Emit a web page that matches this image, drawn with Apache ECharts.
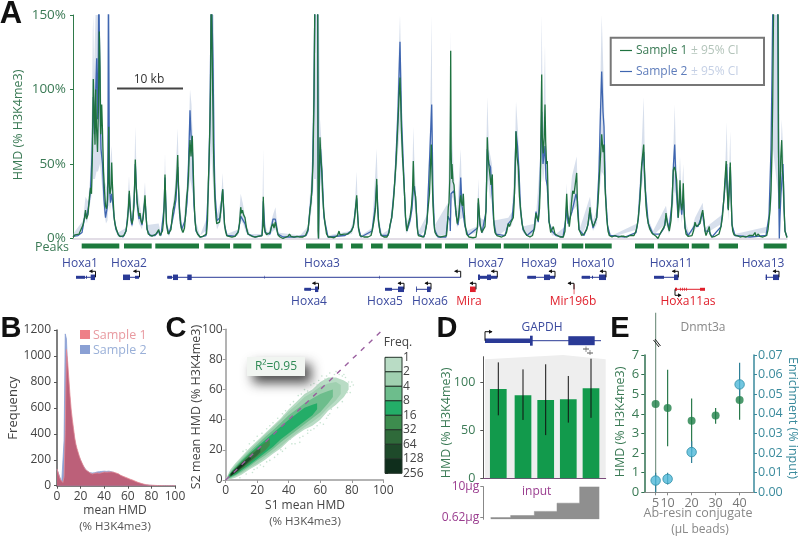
<!DOCTYPE html>
<html><head><meta charset="utf-8"><style>html,body{margin:0;padding:0;background:#fff}#c{width:800px;height:538px}</style>
<script src="https://cdn.jsdelivr.net/npm/echarts@6/dist/echarts.min.js"></script></head><body><div id="c"></div>
<script>
// ---------- Panel A: track values, [genomic bin, HMD %] ----------
const s1Track=[[73,1],[75,2.5],[77,1.5],[79,3],[81,4],[83,9],[84.5,14],[85.5,19],[86.5,13],[88,16],[89.5,28],[90.5,34],[91.5,30],[92.5,60],[93.3,107],[94,90],[95,63],[95.7,100],[96.5,75],[97.5,58],[98.5,90],[99.3,139],[100,115],[100.7,70],[101.7,90],[102.5,72],[103.5,45],[104.5,32],[105.5,22],[106.5,20],[107.5,26],[108.2,42],[108.7,75],[109.2,38],[110,30],[111,34],[111.7,51],[112.3,38],[113,28],[114,15],[115,10],[116,7],[117,5],[118,3],[119,2.5],[120,1.2],[122,1],[124,2],[126,5],[127.5,12],[128.5,22],[129.3,32],[130,22],[131,14],[132,10],[133,13],[134,24],[134.7,38],[135.3,53],[136,38],[137,26],[138,20],[139,15],[140,17],[141,12],[142,10],[143,13],[144,20],[145,29],[146,15],[147,7],[148.3,3],[150,2],[152,1.5],[154,2],[156,3],[157.5,4],[158.7,6],[160,2],[161,1.5],[162.5,5],[163.5,12],[164.3,25],[165,43],[165.7,25],[166.5,10],[168,3],[169.5,2.5],[171,6],[172,13],[173,19],[174,22],[175,26],[176,33],[177,44],[177.7,56],[178.5,35],[179.5,20],[180.5,10],[181.7,6],[183,4],[184.5,7],[185.5,15],[186.7,28],[187.5,32],[188.5,42],[189.3,58],[190,66],[191,55],[192.3,69],[193,52],[194,28],[195,12],[196,6],[197.5,3],[200,1],[203,1.5],[205,2.5],[206.5,3],[207.5,12],[208.3,37],[209,50],[209.7,70],[210.5,100],[211.3,170],[213,170],[213.4,63],[214,45],[215,25],[216,14],[216.7,10],[218,10],[219.5,11],[221,20],[222,28],[222.7,33],[223.5,22],[224.5,10],[225.5,5],[226.7,2],[229,1.5],[232,1],[235,1.5],[238,4],[239.5,10],[240.7,21],[241.5,17],[242.5,19],[243.5,16],[245,14],[246.5,7],[248,3],[250,2],[252,1.5],[255,1],[258,1.5],[260,1],[262,2],[262.8,8],[263.3,28],[264,9],[265,5],[266.5,2.5],[268,2],[270,4],[271.5,8],[273,10],[274,7],[275.3,11],[276.5,7],[278,2.5],[280,1],[283,0],[285,1],[288,1.5],[289.5,3],[291,1.5],[294,1],[297,1.5],[300,1],[303,1],[305.5,2],[307,3],[308,6],[309,12],[310,19],[311,24],[312,35],[313,50],[314,95],[315,170],[317.7,170],[318.1,5],[318.5,0],[319,30],[320,68],[320.8,55],[321.7,46],[322.5,32],[323.5,20],[325,10],[326.5,3],[328.3,1],[331,1],[334,0.5],[336,1.5],[337.5,2],[339,5],[340,2.5],[342,2],[344,3],[346,2],[348,3],[350,3.5],[351.5,5],[353.3,8],[354.5,13],[355.5,20],[356.7,29],[357.5,17],[358.5,7],[360,2],[364,1],[368,1],[371,2],[372.5,6],[374,12],[375.5,20],[376.7,40],[377.5,22],[378.5,12],[380,4],[381.5,2],[384,1],[387,1],[389,4],[390,9],[391.7,14],[393,22],[394,30],[395,41],[396,50],[397,64],[398,78],[399,95],[400,108],[400.8,90],[401.5,72],[402.5,55],[403.3,46],[404.5,30],[405.5,15],[406.7,5],[408,9],[410,14],[411.5,22],[412.5,32],[413.3,52],[414,34],[415,30],[415.7,28],[417,8],[418.3,2],[420,1],[423.3,1],[425,3],[426.7,10],[428,20],[429.5,30],[430.5,50],[431.3,63],[432.2,40],[433,22],[434,10],[435,4],[436.7,2],[440,1],[443,1.5],[445,1],[446.5,2],[447.5,10],[448.3,21],[449,24],[449.8,40],[450.3,75],[450.7,126],[451.1,60],[451.7,40],[452,50],[453,38],[454,36],[455,26],[456,18],[457.3,10],[458.5,14],[459.5,22],[460.7,29],[461.5,24],[462.5,22],[463.3,30],[464,20],[465,10],[466.7,3],[469,1],[473,0.5],[476,1],[477.5,8],[478.3,27],[479,20],[480,10],[481.7,4],[483,5],[485,8],[486,20],[486.7,40],[487.3,68],[488,56],[489,48],[490,42],[491,36],[492.3,43],[493,25],[494,9],[495,4],[497,2],[501.7,1],[505,2],[506.5,4],[508.3,10],[509.5,8],[511,11],[513.3,14],[514,22],[515,42],[516,72],[517,55],[518.3,48],[519.5,28],[520.7,19],[522,10],[523.5,6],[525,4],[527,2],[530,1],[532.5,2],[534.5,7],[536,17],[537,14],[538.3,12],[539.5,20],[540.5,40],[541.2,85],[541.7,110],[542.2,70],[543.3,57],[544.2,68],[545,90],[545.7,65],[546.5,50],[547.3,52],[548,30],[549,12],[550.7,4],[552,5],[553.3,8],[555,3],[556.7,2],[560,1],[563.3,1],[565,5],[566,20],[566.7,30],[567.5,18],[569.3,8],[570.5,15],[571.5,24],[572.7,32],[574,30],[575,35],[576.7,44],[577.5,20],[579,6],[581.7,2],[584,3],[586.7,6],[588,10],[589,15],[590,21],[591,13],[593.3,8],[595,11],[596.7,14],[598,24],[599.3,41],[600.5,55],[601.7,70],[603,58],[604,63],[605,35],[606.7,14],[608,5],[609.3,2],[612,1],[615,2],[618,1],[621,1.5],[624,1.5],[627,1],[630,2],[632,1.5],[634,2],[636,5],[637.3,9],[638.3,14],[640,26],[641,40],[641.7,50],[642.5,50],[643.7,63],[644.5,45],[645,37],[646,22],[647,15],[648.3,10],[650,6],[652,3.5],[653.3,3],[656,1.5],[658,0],[660,3],[661.5,3],[663.3,7],[665,9],[666,17],[667,12],[668,9],[669.3,5],[671,12],[672,24],[673.3,46],[674.5,48],[675.5,45],[676.7,39],[677.5,24],[678.3,14],[679,22],[680,39],[680.8,24],[681.7,19],[682.5,24],[683.3,37],[684,20],[685,8],[686,3],[688,1.5],[690,1],[692,2],[693.5,5],[695,11],[696.5,8],[698.3,7],[700,10],[701.5,16],[702.7,19],[704,12],[705,5],[706,2],[708,2],[709.3,8],[710,3],[711.7,1],[715,1.5],[719,3],[721,8],[722.5,15],[724,28],[725,40],[726.2,52],[727,35],[728.3,19],[729.2,32],[730.3,51],[731,30],[732,10],[732.7,5],[734,2.5],[736.7,2],[740,1],[743,1.5],[746,1],[749,2],[751,1],[753,2],[755,4],[756,1.5],[758.3,3],[760,1.5],[763,1],[766.7,2],[768,6],[770,19],[771,32],[772,60],[772.7,92],[773.5,150],[774,170],[778,170],[778.5,60],[779.3,20],[780,30],[780.8,55],[781.7,66],[782.5,45],[783.3,41],[784,22],[785,5],[787,0.5]];
const s2Track=[[73,1.5],[78,2],[82,4],[84,12],[85.5,17],[87,15],[89.5,26],[90.5,33],[92,55],[93.3,95],[94.5,70],[95.7,100],[96.7,121],[97.5,80],[98.3,115],[98.8,170],[99.5,170],[100.3,80],[101,60],[102.5,50],[104,26],[105.5,14],[106.5,13],[107.5,22],[108,60],[108.4,170],[109,170],[109.5,35],[110.5,24],[111.7,30],[113,22],[114.5,12],[116,6],[119,2],[123,1],[126,5],[128.5,20],[129.3,30],[131,12],[132,9],[134,22],[135.3,50],[137,24],[139,13],[140,15],[142,9],[145,26],[147,6],[150,2],[155,2],[158.7,5],[161,2],[164,20],[165,41],[166.5,9],[169,3],[172,11],[174,18],[176,26],[177.7,48],[179.5,17],[181.7,6],[185,12],[187,24],[188.5,50],[190,86],[191,70],[192.3,60],[194,22],[196,5],[200,1],[206,2],[208.3,33],[210,80],[211,150],[211.3,170],[212.5,170],[213,120],[214,60],[215,30],[217,12],[220,14],[222.7,33],[224.5,9],[227,2],[235,1.5],[238.5,5],[240.7,15],[242.5,14],[245,10],[248,3],[255,1],[262,2],[263.3,25],[265,4],[270,3],[273,13],[275.3,13],[278,3],[283,1],[295,1],[306,2],[308,5],[310,20],[312,32],[314,95],[315,170],[317.5,170],[318.5,0],[319.5,40],[320.5,60],[322,45],[324,14],[328,1],[345,2],[351,5],[353.3,8],[356.7,27],[358.5,7],[361,1],[372,5],[375,20],[376.7,36],[378.5,11],[381,2],[388,2],[391.7,14],[395,40],[398,85],[400,132],[401.5,80],[403.3,50],[405.5,14],[407,5],[410,12],[412,20],[413.3,33],[414.5,35],[416,22],[418,3],[424,1],[427,11],[430,60],[431.7,90],[433,30],[434.5,6],[438,1],[446,1],[448,15],[450,12],[450.3,5],[451,30],[452.5,30],[454,32],[456,16],[458,9],[459.5,18],[460.7,41],[462,22],[463.5,22],[465,8],[468,2],[477.5,7],[478.3,24],[480,9],[482,4],[486,18],[487.3,60],[489,50],[490.5,48],[492,30],[493.5,13],[496,3],[505,2],[508.3,10],[512,13],[514.5,30],[516,72],[517.5,62],[519,45],[520.5,19],[523,6],[527,2],[534,6],[536,18],[538.3,11],[540,35],[541.7,85],[543,50],[545,62],[546,40],[547.3,35],[549,11],[552,5],[556,2],[563,1],[566,14],[566.7,22],[568,10],[570,9],[572,18],[574,18],[576,30],[577.5,25],[579,6],[584,2],[588,9],[590,19],[593,7],[596.7,14],[599,45],[600.5,85],[601.7,112],[603,85],[604,75],[605.5,30],[607.5,9],[610,2],[625,1],[636,4],[638.3,13],[641.7,48],[643.7,58],[645,35],[648.3,10],[653,3],[660,3],[664,7],[666,15],[669,6],[672,24],[673.5,50],[674.7,63],[676,38],[678,14],[680,30],[681.7,16],[683.3,28],[685,7],[688,2],[695,9],[698,8],[702.7,17],[705,5],[709,5],[712,1],[721,8],[724,27],[726.7,50],[728,20],[730.3,48],[732,9],[735,2],[750,1],[766,2],[769,15],[771,60],[772,110],[773,170],[775,170],[777.5,170],[778.8,30],[779.3,0],[780,15],[781,30],[783,50],[784,20],[785,5],[787,1]];
const ciUpper=[[73,3],[83,12],[85.5,28],[88,25],[90,40],[92,90],[92.8,140],[93.3,150],[94,110],[95.5,150],[96.5,150],[98.3,150],[99.8,150],[101,100],[103,62],[105,38],[107,34],[108,90],[108.3,150],[109.3,150],[109.8,48],[111.7,62],[113,35],[115,12],[118,4],[126,7],[129,42],[131,16],[134,32],[135.3,75],[137,34],[140,22],[142,14],[145,38],[147,9],[158.7,10],[161,3],[164,28],[165,57],[166.5,12],[170,3],[175,36],[177.7,74],[179.5,24],[183,6],[187,38],[188,50],[190,100],[191.5,90],[193,62],[195,14],[200,2],[207.5,15],[209,75],[210.5,150],[213.7,150],[215,40],[217,16],[221,26],[222.7,44],[224.5,12],[227,3],[238,6],[240.7,30],[243,23],[246,10],[250,3],[262,3],[263.3,60],[264,12],[268,3],[273,16],[275.5,21],[278,4],[300,2],[308,8],[310,30],[312,45],[314,150],[319,150],[320,80],[322,60],[324,18],[328,2],[350,5],[354,14],[356.7,45],[358,12],[361,2],[372,7],[376.7,60],[378.5,15],[382,3],[389,6],[393,28],[396,62],[398,110],[400,150],[402,90],[404,50],[406,10],[410,16],[412,30],[413.3,75],[414.5,50],[416,28],[418,4],[427,16],[430,75],[431.7,150],[432.5,50],[434,8],[448,24],[450.3,100],[450.7,140],[451.2,80],[454,42],[457,16],[460.7,60],[462,30],[464,30],[466,5],[477,8],[478.3,40],[480,14],[485,12],[487.3,95],[489,60],[492,50],[494,12],[508.3,14],[512,18],[515,60],[516,92],[518,72],[520.5,30],[523,8],[535,10],[536.5,20],[540,52],[541.7,150],[543,70],[545,130],[546,65],[548,45],[550,7],[556,3],[565,8],[566.7,37],[568,14],[572,42],[576.7,55],[578,26],[580,7],[590,28],[593,12],[597,20],[599,60],[601.7,150],[603.5,110],[605.5,40],[608,7],[612,2],[637,10],[641,52],[643.7,95],[645,50],[648,14],[653,5],[666,22],[669,9],[672,30],[674.7,90],[676,55],[678,22],[680,55],[681.7,28],[683.3,50],[685,12],[690,2],[695,14],[702.7,24],[705,7],[722,16],[725,42],[726.7,78],[728.3,26],[730.3,72],[732,12],[735,3],[768,8],[770,30],[771.5,80],[772.5,150],[779,150],[780,40],[781.7,80],[783.5,55],[785,7],[787,2]];
const ciLower=[[73,0.5],[83,6],[85.5,14],[87,10],[89.5,22],[91,26],[93,40],[95,40],[96.5,45],[98,45],[100,50],[102,35],[104,18],[106,10],[107.5,12],[108.7,25],[110,18],[111.7,30],[113,15],[115,6],[118,1],[126,3],[128,14],[129.3,24],[131,8],[133,8],[135.3,38],[137,16],[139,10],[142,6],[145,20],[147,4],[150,1],[158,3],[161,1],[164,12],[165,32],[166.5,6],[169,1],[172,8],[175,18],[177.7,38],[179.5,10],[182,3],[185,9],[187,20],[190,40],[191.5,35],[193,28],[195,7],[198,1],[207.5,6],[209,30],[211,60],[213.5,30],[215,16],[217,6],[221,12],[222.7,22],[224.5,6],[227,1],[238,2],[240.7,12],[243,10],[246,4],[250,1],[262,1],[263.3,20],[264,5],[268,1],[273,5],[275.5,6],[278,1],[305,1],[308,3],[310,11],[312,22],[314,40],[316,40],[318,0],[320,40],[322,25],[324,10],[328,0.5],[352,3],[355,12],[356.7,20],[358,4],[361,1],[372,3],[375,13],[376.7,28],[378.5,7],[382,1],[389,2],[393,16],[396,40],[398,58],[400,75],[402,50],[404,25],[406,3],[410,9],[412,16],[413.3,30],[414.5,22],[416,12],[419,1],[427,7],[430,35],[431.7,45],[433,14],[436,1],[447,3],[449,16],[450.5,3],[452,28],[454,25],[457,7],[460,13],[463,14],[466,2],[477,4],[478.3,18],[480,6],[483,3],[486,14],[487.3,45],[490,26],[492,30],[494,6],[497,1],[508,7],[512,9],[515,28],[516,52],[518,32],[520.5,13],[523,4],[530,0.5],[535,5],[536.5,11],[539,12],[541,55],[543,38],[545,50],[547,30],[549,8],[552,2],[565,2],[566.7,17],[568,7],[572,18],[576.7,22],[578,10],[581,1],[590,14],[593,5],[597,10],[599,28],[601.7,45],[604,42],[605.5,18],[608,3],[612,1],[637,6],[641,32],[643.7,42],[645,25],[648,7],[653,2],[666,10],[669,3],[672,16],[674.7,32],[676,28],[678,10],[680,24],[681.7,10],[683.3,22],[685,5],[688,1],[695,6],[702.7,12],[705,3],[722,10],[725,30],[726.7,38],[728.3,12],[730.3,35],[732,6],[735,1],[768,4],[770,13],[771.5,25],[773,60],[778,30],[779.3,0],[781,35],[783.5,25],[785,3],[787,0.3]];
const peakIntervals=[[81.7,119.3],[124,151.7],[155.3,199],[204.3,230],[233.3,251.3],[260.7,281.7],[306,330],[335.7,342.7],[351,362.7],[371,382.7],[387.7,421.3],[425,441.7],[445,468],[475,501],[503.7,529.3],[530,558],[561.7,583.3],[585,611.7],[635,654],[657.7,689],[691.7,709.3],[718.7,738],[763.7,786.7]];
const hoxGenes=[
 {name:'Hoxa1',row:1,type:'coding',start:76,end:95,tss:95.5,dir:-1,labelAt:80,exons:[[76,85,'mid'],[86,87,'mid'],[90.7,95,'big']]},
 {name:'Hoxa2',row:1,type:'coding',start:123,end:139,tss:139.5,dir:-1,labelAt:129,exons:[[123,130,'big'],[135,139,'mid']]},
 {name:'Hoxa3',row:1,type:'coding',start:167.3,end:460.7,tss:460.7,dir:-1,labelAt:322,exons:[[167.3,172,'mid'],[173,178,'big'],[187.3,191.7,'big'],[264.5,265,'tick'],[379,379.6,'tick']]},
 {name:'Hoxa4',row:2,type:'coding',start:304.3,end:318.3,tss:318.5,dir:-1,labelAt:309,exons:[[304.3,311,'mid'],[315,318.3,'big']]},
 {name:'Hoxa5',row:2,type:'coding',start:385,end:404,tss:404,dir:-1,labelAt:385,exons:[[385,392,'mid'],[398,404,'big']]},
 {name:'Hoxa6',row:2,type:'coding',start:416,end:430.7,tss:431,dir:-1,labelAt:430,exons:[[416,416.8,'big'],[427,430.7,'big']]},
 {name:'Hoxa7',row:1,type:'coding',start:478,end:497.3,tss:497.3,dir:-1,labelAt:486,exons:[[478,480,'big'],[480,487,'mid'],[487,491,'big'],[491,497.3,'mid']]},
 {name:'Mira',row:2,type:'rna',start:470,end:475.7,tss:476,dir:-1,labelAt:469,exons:[[470,475.7,'big']]},
 {name:'Hoxa9',row:1,type:'coding',start:527.3,end:555,tss:555,dir:-1,labelAt:539,exons:[[527.3,536,'mid'],[544,550,'big'],[550,555,'mid']]},
 {name:'Mir196b',row:2,type:'rna',start:574,end:574,tss:574,dir:-1,labelAt:573,exons:[[573.7,574.4,'tall']]},
 {name:'Hoxa10',row:1,type:'coding',start:581.7,end:606,tss:606,dir:-1,labelAt:593,exons:[[581.7,590,'mid'],[592,593,'mid'],[599,606,'big']]},
 {name:'Hoxa11',row:1,type:'coding',start:654,end:678.3,tss:678.3,dir:-1,labelAt:671,exons:[[654,664,'mid'],[674,678.3,'big']]},
 {name:'Hoxa11as',row:2,type:'rna',start:675,end:705,tss:675,dir:1,down:true,labelAt:688,exons:[[675,677,'mid'],[680,680.8,'mid'],[682,682.8,'mid'],[684,684.8,'mid'],[686,686.8,'mid'],[700,705,'mid']]},
 {name:'Hoxa13',row:1,type:'coding',start:765.7,end:779,tss:779,dir:-1,labelAt:763,exons:[[765.7,767,'big'],[773,779,'big']]}
];
// ---------- Panel B ----------
const histS1=[130,115,70,45,30,25,70,420,1050,960,830,700,590,510,440,370,320,285,255,225,200,180,160,145,125,120,112,105,98,95,90,92,96,92,98,100,96,105,100,104,105,108,104,112,105,110,106,100,104,96,98,90,92,85,80,82,72,74,65,62,58,52,50,46,44,38,36,30,28,24,22,18,16,13,11,10,8,7,5,4,4,3,3,2,2,2,1,1,1,1,0,0,0,0,0,0,0,0,0,0,0];
const histS2=[125,110,75,50,28,40,350,1170,1130,880,760,640,540,470,410,350,305,270,240,215,195,172,155,140,128,118,110,102,100,98,98,102,100,104,106,102,108,104,110,108,112,115,110,118,112,114,108,104,102,98,92,88,84,78,74,72,66,62,56,52,48,44,40,37,34,30,26,24,20,18,15,13,11,9,8,6,5,4,3,3,2,2,1,1,1,1,0,0,0,0,0,0,0,0,0,0,0,0,0,0,0];
// ---------- Panel C: S2 range for each S1 value, per frequency level ----------
const freqLevels=[1,2,4,8,16,32,64,128,256];
const densityGe1=[[0.5,0.2,1.5],[3,0.5,7],[6,1.5,11],[10,3.5,15.5],[15,7,21],[20,10,26],[25,13.5,31],[30,17.5,36],[35,21,41],[40,26,47],[45,30,52],[50,33.5,57],[55,36,60],[60,40,65],[65,46,68],[70,50,68],[75,55,66],[78,60,64]];
const densityGe2=[[1,0.5,2],[3,1,6],[6,2.5,10],[10,4.5,14.5],[15,8,20],[20,11,25],[25,15,30],[30,18.5,35],[35,22.5,40],[40,27,45.5],[45,31,50],[50,35,55],[55,38.5,58],[60,42.5,62],[65,48,64],[70,53,65],[73,57,63]];
const densityGe4=[[1.5,1,2.5],[3,1.5,5],[6,3,9],[10,5.5,13.5],[15,9,18.5],[20,13,23.5],[25,16.5,28.5],[30,20.5,33],[35,25,38],[40,29,43],[45,33,47],[50,37,51],[55,41,54],[60,45,57],[65,51,59],[68,55,60]];
const densityGe8=[[2,1.5,3],[4,2.5,6],[7,4,9],[10,6.5,12.5],[15,10,17.5],[20,14,22],[25,18,26.5],[30,22,31],[35,27,35.5],[40,31,40],[45,35,44],[50,39,48],[55,43,50],[58,47,51]];
const densityGe16=[[2.5,2,3.5],[5,3.5,6.5],[8,5.5,10],[12,8.5,14],[16,12,18],[20,15.5,21],[25,19.5,25],[28,23,27.5]];
const densityGe32=[[3,2.5,4],[5,4,6.5],[8,6,9.5],[12,9.5,13],[16,13,16.5],[20,16.5,20],[22,18.5,21]];
const densityGe64=[[3,2.5,4],[5,4,6],[8,6.5,9],[11,9,12],[14,12,14.5],[16,14,16]];
const densityGe128=[[3.5,3,4.5],[5,4.2,6],[8,7,8.8],[11,9.8,11.5],[12,10.8,12.2]];
const strayPoints=[[78,65],[76,60],[79,62],[72,70],[68,68],[74,52],[71,48],[66,44],[62,37],[56,34],[52,31],[47,25],[44,24],[38,21],[33,17],[28,13],[24,9],[20,8],[17,5],[13,4],[9,1.5],[11,19],[15,24],[20,29],[26,34],[30,38],[36,44],[41,50],[46,56],[50,60],[56,64],[61,69],[66,71],[70,72],[75,70],[80,65],[77,58],[73,55],[69,50],[64,41],[60,38],[58,36],[54,33],[49,29],[42,24],[36,19],[31,15],[26,12],[22,10],[18,7],[63,67],[59,66],[54,63],[48,57],[43,52],[38,46],[33,41],[28,36],[23,31],[18,26],[13,20],[76,68],[74,69],[81,63],[79,58],[75,57],[71,52],[67,47],[65,43],[57,39],[52,33],[47,28],[41,27],[35,20],[72,66],[69,70],[64,69],[58,63],[52,59],[44,50],[37,43]];
const identityLine=[[0,0],[100,100]];
const r2Text='R²=0.95';
// ---------- Panel D ----------
const ampliconPos=[498.3,523,545.7,568.3,591];
const hmdMeans=[93,86.5,81.6,82.3,93.8];
const hmdHigh=[120.8,113.5,118.8,106.6,124.6];
const hmdLow=[65.6,60.8,45,58,63];
const inputPos=[490.7,498.3,523,545.7,568.3,591,599.3];
const inputUg=[0.62,0.62,1.25,2.5,5,10,10];
const gapdhGene=[{name:'',row:1,type:'coding',start:485,end:601,tss:485,dir:1,exons:[[485,530,'thick'],[530,532.7,'tall'],[568.3,594.7,'tallest']]}];
// ---------- Panel E ----------
const resinUl=[5,10,20,30,40];
const eHmd=[4.5,4.3,3.65,3.92,4.7];
const eHmdLow=[0,2.35,2.07,3.5,3.7];
const eHmdHigh=[9.15,6.25,4.78,4.3,5.3];
const enrichUl=[5,10,20,40];
const enrich=[0.006,0.0068,0.0205,0.055];
const enrichLow=[0,0.004,0.015,0.047];
const enrichHigh=[0.01,0.01,0.026,0.066];

// ---------- styles ----------
const FONT='"Open Sans"';
const G1='#1f7340',B1='#3f66b0',BLUE='#3b4a9e',RED='#e0202c',DARK='#444',HGREEN='#3a7a55',TEAL='#3a8a9c',PURPLE='#9a3d8f';
const levelColors=['#b9dcc5','#a0d0b0','#6dbd8c','#24ad68','#3d8c4e','#2f6a3a','#1e4a2a','#0f2e1c'];
const exonH={tick:3,mid:3,big:5.5,tall:10,thick:4.5,tallest:9};
const rowPos={1:37.3,2:49.3},labelPos={1:24,2:61.5};
const zip=(a,b)=>a.map((v,i)=>[v,b[i]]);

function geneItem(genes,rowMap,lblMap,scale){return (p,api)=>{
  const g=genes[p.dataIndex],yv=rowMap[g.row],cy=api.coord([g.start,yv])[1],X=v=>api.coord([v,yv])[0];
  const col=g.type==='coding'?'#2a3a96':RED,ch=[];
  ch.push({type:'line',shape:{x1:X(g.start),y1:cy,x2:X(g.end),y2:cy},style:{stroke:col,lineWidth:1}});
  g.exons.forEach(e=>{const h=exonH[e[2]];ch.push({type:'rect',shape:{x:X(e[0]),y:cy-h/2,width:X(e[1])-X(e[0]),height:h},style:{fill:col}});});
  const tx=X(g.tss),s=g.down?1:-1,hgt=scale?9:6,tipY=cy+s*hgt,L=g.dir*(scale?7:6);
  ch.push({type:'polyline',shape:{points:[[tx,cy],[tx,tipY],[tx+L,tipY]]},style:{stroke:'#111',fill:null,lineWidth:1}});
  ch.push({type:'polygon',shape:{points:[[tx+L+g.dir*0.5,tipY],[tx+L-g.dir*3,tipY-2],[tx+L-g.dir*3,tipY+2]]},style:{fill:'#111'}});
  if(g.name){ch.push({type:'text',style:{text:g.name,x:X(g.labelAt),y:api.coord([g.start,lblMap[g.row]])[1],textAlign:'center',textVerticalAlign:'middle',font:'12px '+FONT,fill:g.type==='coding'?BLUE:RED}});}
  return {type:'group',children:ch};
};}
function band(xi,yi,upper,lower,fill,z){return {type:'custom',xAxisIndex:xi,yAxisIndex:yi,z,silent:true,clip:true,data:[0],renderItem:(p,api)=>{
  const pts=upper.map(d=>api.coord(d)).concat(lower.slice().reverse().map(d=>api.coord(d)));
  return {type:'polygon',shape:{points:pts},style:{fill}};}};}
const densBand=(rows,i)=>band(3,3,rows.map(r=>[r[0],r[2]]),rows.map(r=>[r[0],r[1]]),levelColors[i],3+i);
function errBars(xi,yi,xs,lo,hi,colorFn,width,z){return {type:'custom',xAxisIndex:xi,yAxisIndex:yi,z,clip:false,silent:true,data:xs.map((x,i)=>i),renderItem:(p,api)=>{
  const i=p.dataIndex,a=api.coord([xs[i],lo[i]]),b=api.coord([xs[i],hi[i]]);
  return {type:'line',shape:{x1:a[0],y1:a[1],x2:b[0],y2:b[1]},style:{stroke:colorFn(i),lineWidth:width}};}};}

// ---------- axes ----------
const off={show:false};
const grid=[
 {left:73,top:15,width:714,height:223.5},
 {left:73,top:240,width:714,height:66},
 {left:57,top:330,width:118,height:155.7},
 {left:225.7,top:329.3,width:157.6,height:150.7},
 {left:385,top:357.3,width:17,height:116},
 {left:483.3,top:356.7,width:122.4,height:121.6},
 {left:483.3,top:330,width:122.4,height:20},
 {left:483.3,top:486.7,width:122.4,height:32.6},
 {left:644.3,top:355,width:109.7,height:137.3}
];
const lab=(color,size,extra)=>Object.assign({color,fontSize:size,fontFamily:FONT,margin:3},extra||{});
const pctAxis=(g,color,m)=>({gridIndex:g,type:'value',min:0,max:100,interval:20,axisLine:{show:true,onZero:false,lineStyle:{color,width:1.5}},axisTick:{show:true,length:3,lineStyle:{color}},splitLine:off,axisLabel:lab(DARK,12,{margin:m})});
const xAxis=[
 {gridIndex:0,type:'value',min:73,max:787,axisLine:{show:true,onZero:false,lineStyle:{color:'#d9d2de',width:1.5}},axisTick:off,axisLabel:off,splitLine:off},
 {gridIndex:1,type:'value',min:73,max:787,show:false},
 pctAxis(2,'#555',5),
 pctAxis(3,'#9a9a9a',5),
 {gridIndex:4,type:'value',min:0,max:1,show:false},
 {gridIndex:5,type:'value',min:483.3,max:605.7,axisLine:{show:true,onZero:false,lineStyle:{color:'#7a4a7a',width:1}},axisTick:off,axisLabel:off,splitLine:off},
 {gridIndex:6,type:'value',min:483.3,max:605.7,show:false},
 {gridIndex:7,type:'value',min:483.3,max:605.7,show:false},
 {gridIndex:8,type:'value',min:0.28,max:46,axisLine:{show:true,onZero:false,lineStyle:{color:'#8a8a8a',width:1}},axisTick:{show:true,length:3,customValues:resinUl,lineStyle:{color:'#8a8a8a'}},splitLine:off,axisLabel:lab('#777',12.5,{customValues:resinUl,margin:5,hideOverlap:false})}
];
const yAxis=[
 {gridIndex:0,type:'value',min:0,max:150,interval:50,axisLine:{show:true,lineStyle:{color:'#2f7a4a',width:1}},axisTick:{show:true,length:3,lineStyle:{color:'#2f7a4a'}},splitLine:off,axisLabel:lab(HGREEN,13.5,{margin:7,formatter:'{value}%'})},
 {gridIndex:1,type:'value',min:0,max:66,inverse:true,show:false},
 {gridIndex:2,type:'value',min:0,max:1200,interval:200,axisLine:{show:true,onZero:false,lineStyle:{color:'#555',width:1.5}},axisTick:{show:true,length:3,lineStyle:{color:'#555'}},splitLine:off,axisLabel:lab(DARK,12,{margin:6,formatter:v=>String(v)})},
 pctAxis(3,'#9a9a9a',3),
 {gridIndex:4,type:'value',min:0,max:8,interval:1,inverse:true,position:'right',axisLine:off,axisTick:{show:true,length:3,inside:false,lineStyle:{color:'#222'}},splitLine:off,axisLabel:lab(DARK,12,{margin:1,formatter:v=>String(freqLevels[v])})},
 {gridIndex:5,type:'value',min:0,max:126.7,axisLine:{show:true,onZero:false,lineStyle:{color:'#555',width:1}},axisTick:{show:true,length:3,customValues:[0,50,100],lineStyle:{color:'#555'}},splitLine:off,axisLabel:lab(HGREEN,12.5,{customValues:[0,50,100],margin:8})},
 {gridIndex:6,type:'value',min:0,max:20,inverse:true,show:false},
 {gridIndex:7,type:'value',min:0.1,max:10,axisLine:{show:true,onZero:false,lineStyle:{color:'#888'}},axisTick:{show:true,length:3,customValues:[0.62,10],lineStyle:{color:'#888'}},splitLine:off,axisLabel:lab(PURPLE,12,{customValues:[0.62,10],margin:4,formatter:v=>v+'µg'})},
 {gridIndex:8,type:'value',min:0,max:7,interval:1,axisLine:{show:true,onZero:false,lineStyle:{color:'#2f7050',width:1.5}},axisTick:{show:true,length:3,lineStyle:{color:'#2f7050'}},splitLine:off,axisLabel:lab(HGREEN,13,{margin:5})},
 {gridIndex:8,type:'value',min:0,max:0.07,interval:0.01,position:'right',axisLine:{show:true,onZero:false,lineStyle:{color:TEAL,width:1.5}},axisTick:{show:true,length:3,lineStyle:{color:TEAL}},splitLine:off,axisLabel:lab(TEAL,12.5,{margin:4,formatter:v=>v.toFixed(2)})}
];

// ---------- series ----------
const series=[
 band(0,0,ciUpper,ciLower,'rgba(150,170,205,0.38)',1),
 {type:'line',xAxisIndex:0,yAxisIndex:0,data:s2Track,showSymbol:false,symbol:'none',z:3,lineStyle:{color:B1,width:1.3},silent:true},
 {type:'line',xAxisIndex:0,yAxisIndex:0,data:s1Track,showSymbol:false,symbol:'none',z:4,lineStyle:{color:G1,width:1.3},silent:true},
 {type:'custom',xAxisIndex:1,yAxisIndex:1,data:peakIntervals,silent:true,clip:false,renderItem:(p,api)=>{
   const a=api.coord([api.value(0),6]),b=api.coord([api.value(1),6]);
   return {type:'rect',shape:{x:a[0],y:a[1]-2.5,width:b[0]-a[0],height:5},style:{fill:'#1c7a3c'}};}},
 {type:'custom',xAxisIndex:1,yAxisIndex:1,data:hoxGenes.map((g,i)=>i),silent:true,clip:false,z:5,renderItem:geneItem(hoxGenes,rowPos,labelPos,false)},
 {type:'line',xAxisIndex:2,yAxisIndex:2,data:zip(histS2.map((v,i)=>i),histS2),showSymbol:false,symbol:'none',z:2,lineStyle:{color:'#8aa0d4',width:0.8},areaStyle:{color:'#8aa0d4',opacity:1},silent:true},
 {type:'line',xAxisIndex:2,yAxisIndex:2,data:zip(histS1.map((v,i)=>i),histS1),showSymbol:false,symbol:'none',z:3,lineStyle:{color:'#e58b96',width:0.8},areaStyle:{color:'#c3566c',opacity:0.88},silent:true},
 {type:'scatter',xAxisIndex:3,yAxisIndex:3,data:strayPoints,symbolSize:1.6,z:2,itemStyle:{color:levelColors[0]},silent:true},
 densBand(densityGe1,0),densBand(densityGe2,1),densBand(densityGe4,2),densBand(densityGe8,3),densBand(densityGe16,4),densBand(densityGe32,5),densBand(densityGe64,6),densBand(densityGe128,7),
 {type:'line',xAxisIndex:3,yAxisIndex:3,data:identityLine,showSymbol:false,symbol:'none',z:20,lineStyle:{color:'#9a5f9f',width:1.4,type:[5,6]},silent:true},
 {type:'custom',xAxisIndex:4,yAxisIndex:4,data:levelColors.map((c,i)=>i),silent:true,renderItem:(p,api)=>{
   const i=p.dataIndex,a=api.coord([0,i]),b=api.coord([1,i+1]);
   return {type:'rect',shape:{x:a[0],y:a[1],width:b[0]-a[0],height:b[1]-a[1]},style:{fill:levelColors[i],stroke:'#24352a',lineWidth:1}};}},
 {type:'bar',xAxisIndex:5,yAxisIndex:5,data:zip(ampliconPos,hmdMeans),barWidth:16.7,z:3,itemStyle:{color:'#129a4c'},silent:true},
 errBars(5,5,ampliconPos,hmdLow,hmdHigh,()=>'#111',1,5),
 {type:'custom',xAxisIndex:6,yAxisIndex:6,data:[0],silent:true,clip:false,renderItem:geneItem(gapdhGene,{1:10.7},{1:0},true)},
 {type:'line',xAxisIndex:7,yAxisIndex:7,data:zip(inputPos,inputUg),step:'middle',showSymbol:false,symbol:'none',lineStyle:{color:'#8f8f8f',width:0.5},areaStyle:{color:'#8f8f8f',opacity:1},silent:true},
 errBars(8,8,resinUl,eHmdLow,eHmdHigh,i=>eHmdHigh[i]>7?'rgba(90,125,105,0.8)':'#2a7a4c',1.2,3),
 errBars(8,9,enrichUl,enrichLow,enrichHigh,()=>'#2f7f96',1.2,4),
 {type:'scatter',xAxisIndex:8,yAxisIndex:8,data:zip(resinUl,eHmd),symbolSize:8,z:6,itemStyle:{color:'#1f8048'},silent:true},
 {type:'scatter',xAxisIndex:8,yAxisIndex:9,data:zip(enrichUl,enrich),symbolSize:9.5,z:7,itemStyle:{color:'#4fb8d8',borderColor:'#2e8fa8',borderWidth:1},silent:true}
];

// ---------- annotations ----------
const T=(x,y,text,fill,size,o)=>Object.assign({type:'text',z:50,silent:true,x,y,rotation:(o&&o.rot)||0,style:{text,x:0,y:0,fill,textAlign:(o&&o.align)||'center',textVerticalAlign:'middle',font:((o&&o.weight)||'')+' '+size+'px '+((o&&o.family)||FONT)}});
const L=(x1,y1,x2,y2,stroke,lineWidth)=>({type:'line',z:50,silent:true,shape:{x1,y1,x2,y2},style:{stroke,lineWidth}});
const R=(x,y,width,height,fill,extra)=>({type:'rect',z:(extra&&extra.z)||50,silent:true,shape:{x,y,width,height},style:Object.assign({fill},extra&&extra.style)});
const BOLD={weight:'bold',family:'"Liberation Sans"'};
const graphic=[
 T(11,14,'A','#111',31,BOLD),T(11,329,'B','#111',29,BOLD),T(176,329,'C','#111',29,BOLD),T(447,329,'D','#111',29,BOLD),T(620,329,'E','#111',29,BOLD),
 T(18,125,'HMD (% H3K4me3)',HGREEN,12.5,{rot:Math.PI/2}),
 T(52,247,'Peaks',HGREEN,12.5),
 L(117,88.5,183,88.5,'#444',2),T(149,80,'10 kb','#333',12),
 R(610.7,37.7,153.3,47.3,'#fff',{style:{stroke:'#777',lineWidth:2}}),
 L(620,50.5,632,50.5,G1,1.2),T(636,50.5,'Sample 1','#3a7a55',12,{align:'left'}),T(691,50.5,'± 95% CI','#b3c4ba',12,{align:'left'}),
 L(620,71.5,632,71.5,B1,1.2),T(636,71.5,'Sample 2','#5f7dbb',12,{align:'left'}),T(691,71.5,'± 95% CI','#c5d0e5',12,{align:'left'}),
 R(80,330,10,9,'#ee8088'),T(93,335,'Sample 1','#e89aa0',12.5,{align:'left'}),
 R(80,345,10,9,'#8aa0d4'),T(93,350,'Sample 2','#9ab0d8',12.5,{align:'left'}),
 T(13,408,'Frequency',DARK,13,{rot:Math.PI/2}),T(115,511,'mean HMD',DARK,12),T(115,527,'(% H3K4me3)','#555',11.5),
 T(196,407,'S2 mean HMD (% H3K4me3)',DARK,12.5,{rot:Math.PI/2}),T(305,506,'S1 mean HMD',DARK,12),T(305,522,'(% H3K4me3)','#555',11.5),
 R(247,357,58,19,'#f1f5f1',{z:40,style:{shadowBlur:12,shadowOffsetX:6,shadowOffsetY:7,shadowColor:'rgba(30,30,30,0.8)'}}),
 T(276,366.5,r2Text,'#2f8a55',12),
 T(398,343,'Freq.',DARK,12),
 {type:'polygon',z:0,silent:true,shape:{points:[[485,359.3],[563,355],[605.7,359.3],[605.7,478],[485,478]]},style:{fill:'#eeeeee'}},
 T(542,328,'GAPDH',BLUE,12),
 L(583,349,589,349,'#333',0.8),L(587,353,593,353,'#333',0.8),L(586,346.5,586,352,'#666',0.7),L(590,350,590,355,'#666',0.7),
 T(446,423,'HMD (% H3K4me3)',HGREEN,12.5,{rot:Math.PI/2}),
 T(536.7,491.7,'input',PURPLE,12),
 T(703,328,'Dnmt3a','#888',12),
 T(620.7,422,'HMD (% H3K4me3)',HGREEN,12.5,{rot:Math.PI/2}),
 T(792.7,418,'Enrichment (% input)',TEAL,12.5,{rot:-Math.PI/2}),
 T(698,513.5,'Ab-resin conjugate','#888',12.5),T(700,530,'(µL beads)','#888',12),
 L(653.5,340,659,347,'#222',1),L(655,339,660.5,346,'#222',1)
];
echarts.init(document.getElementById('c'),null,{renderer:'canvas'}).setOption({animation:false,backgroundColor:'#fff',tooltip:{show:false},grid,xAxis,yAxis,series,graphic});
</script></body></html>
